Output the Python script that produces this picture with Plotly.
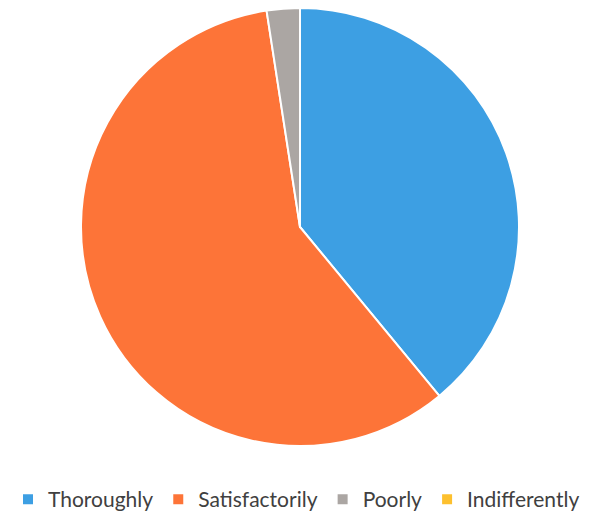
import plotly.graph_objects as go

categories = ["Thoroughly", "Satisfactorily", "Poorly", "Indifferently"]
values = [16, 24, 1, 0]
colors = ["#3D9FE3", "#FD7438", "#ABA6A3", "#FDC02E"]

W, H = 595, 512
# page body has an 8px margin; pie centre on screen (300, 227), radius ~219
cx, cy, r = 292, 219, 219
fig = go.Figure(go.Pie(
    labels=categories,
    values=values,
    sort=False,
    direction="clockwise",
    rotation=0,
    textinfo="none",
    hoverinfo="label+percent",
    marker=dict(colors=colors, line=dict(color="white", width=2)),
    domain=dict(x=[(cx - r) / W, (cx + r) / W], y=[(H - cy - r) / H, 1.0]),
))
fig.update_layout(
    width=W, height=H,
    margin=dict(l=0, r=0, t=0, b=0),
    paper_bgcolor="white",
    plot_bgcolor="white",
    showlegend=True,
    legend=dict(
        orientation="h",
        x=0.0, xanchor="left",
        y=0.0, yanchor="bottom",
        font=dict(family="Lato, Open Sans, sans-serif", size=21, color="#404040"),
        itemwidth=30,
        tracegroupgap=0,
    ),
)
fig.write_html("out.html")
